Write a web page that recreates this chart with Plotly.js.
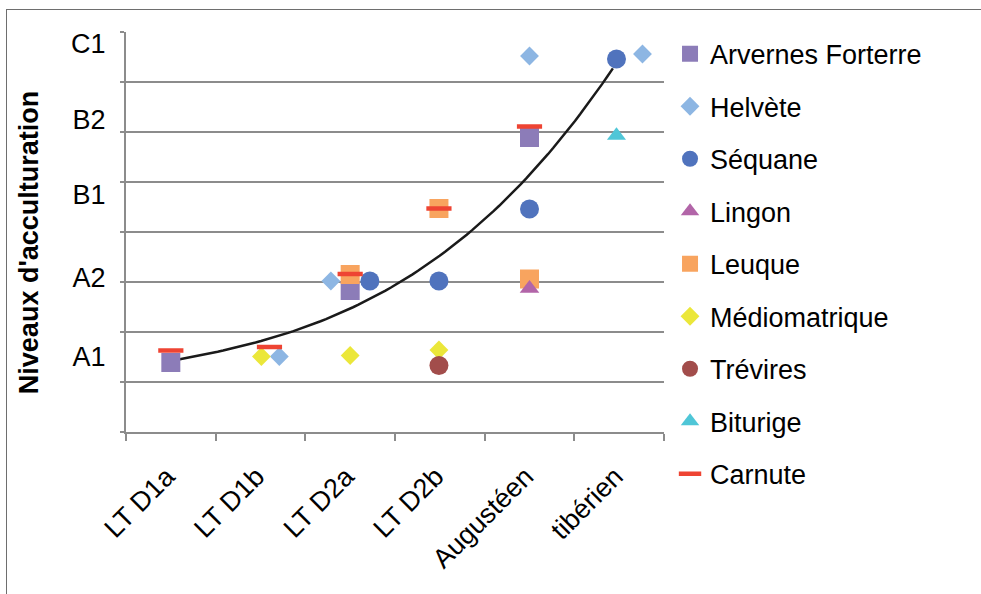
<!DOCTYPE html>
<html>
<head>
<meta charset="utf-8">
<script src="https://cdn.plot.ly/plotly-3.0.1.min.js"></script>
<style>
  html, body { margin: 0; padding: 0; background: #fff; overflow: hidden; }
  #chart { width: 981px; height: 594px; position: absolute; left: 0; top: 0; }
  #frame { position: absolute; left: 6px; top: 9px; width: 2000px; height: 2000px;
           border-left: 1.5px solid #6e6e6e; border-top: 1.5px solid #6e6e6e; pointer-events: none; }
</style>
</head>
<body>
<div id="chart"></div>
<div id="frame"></div>
<script>
// Periods (category axis)
const categories = ['LT D1a', 'LT D1b', 'LT D2a', 'LT D2b', 'Augustéen', 'tibérien'];
const categoryCenters = [0.5, 1.5, 2.5, 3.5, 4.5, 5.5];

// Acculturation levels (y tick labels) and where they sit on the 0-8 scale
const levelLabels = ['A1', 'A2', 'B1', 'B2', 'C1'];
const levelPos = [1.5, 3.08, 4.74, 6.24, 7.77];

// Series (x = period position, y = level)
const arvernesX = [0.5, 2.5, 4.5];
const arvernesY = [1.39, 2.83, 5.89];
const helveteX = [1.71, 2.285, 4.5, 5.76];
const helveteY = [1.51, 3.02, 7.52, 7.56];
const sequaneX = [2.72, 3.49, 4.5, 5.47];
const sequaneY = [3.02, 3.02, 4.46, 7.46];
const lingonX = [4.5];
const lingonY = [2.87];
const leuqueX = [2.5, 3.49, 4.5];
const leuqueY = [3.15, 4.47, 3.06];
const mediomatriqueX = [1.51, 2.5, 3.49];
const mediomatriqueY = [1.51, 1.53, 1.64];
const trevirestX = [3.49];
const trevirestY = [1.33];
const biturigeX = [5.47];
const biturigeY = [5.93];
const carnuteX = [0.5, 1.6, 2.5, 3.49, 4.5];
const carnuteY = [1.63, 1.70, 3.16, 4.47, 6.11];

// Trend curve points; a smooth cubic is fitted through them
const trendX = [0.60, 1.23, 1.92, 2.72, 3.07, 3.82, 4.43, 4.93, 5.43];
const trendY = [1.46, 1.70, 2.00, 2.71, 3.00, 4.00, 5.00, 6.00, 7.30];

function polyFit(xs, ys, deg) {
  const n = deg + 1;
  const A = [];
  for (let i = 0; i < n; i++) { A.push(new Array(n + 1).fill(0)); }
  for (let k = 0; k < xs.length; k++) {
    for (let i = 0; i < n; i++) {
      for (let j = 0; j < n; j++) A[i][j] += Math.pow(xs[k], i + j);
      A[i][n] += ys[k] * Math.pow(xs[k], i);
    }
  }
  for (let i = 0; i < n; i++) {
    let p = i;
    for (let r = i + 1; r < n; r++) if (Math.abs(A[r][i]) > Math.abs(A[p][i])) p = r;
    [A[i], A[p]] = [A[p], A[i]];
    for (let r = 0; r < n; r++) {
      if (r === i) continue;
      const f = A[r][i] / A[i][i];
      for (let c = i; c <= n; c++) A[r][c] -= f * A[i][c];
    }
  }
  return A.map((row, i) => row[n] / row[i]);
}
const coef = polyFit(trendX, trendY, 3);
const fitX = [], fitY = [];
const x0 = trendX[0], x1 = trendX[trendX.length - 1];
for (let i = 0; i <= 80; i++) {
  const x = x0 + (x1 - x0) * i / 80;
  fitX.push(x);
  fitY.push(coef.reduce((s, c, p) => s + c * Math.pow(x, p), 0));
}

const font = 'Liberation Sans, Arial, Helvetica, sans-serif';
const grid = '#8c8c8c';

function pts(name, x, y, symbol, color, size, rank, extra) {
  const m = { symbol: symbol, color: color, size: size, line: { width: 0 } };
  if (extra) Object.assign(m, extra);
  return { type: 'scatter', mode: 'markers', name: name, x: x, y: y, marker: m,
           legendrank: rank, legendgroup: name, hoverinfo: 'skip' };
}

const traces = [
  { type: 'scatter', mode: 'lines', x: fitX, y: fitY, showlegend: false,
    line: { color: '#1a1a1a', width: 2.5 }, hoverinfo: 'skip' },
  pts('Arvernes Forterre', arvernesX, arvernesY, 'square', '#8c7cb8', 19, 1),
  pts('Helvète', helveteX, helveteY, 'diamond', '#8db6e3', 14.5, 2),
  pts('Séquane', sequaneX, sequaneY, 'circle', '#5073bd', 19, 3),
  pts('Leuque', leuqueX, leuqueY, 'square', '#f8a45f', 19, 5),
  pts('Lingon', lingonX, lingonY, 'triangle-up', '#b265a8', 17, 4),
  pts('Médiomatrique', mediomatriqueX, mediomatriqueY, 'diamond', '#ebe73a', 14.5, 6),
  pts('Trévires', trevirestX, trevirestY, 'circle', '#a24d4b', 19, 7),
  pts('Biturige', biturigeX, biturigeY, 'triangle-up', '#4fc6d7', 16.5, 8),
  pts('Carnute', carnuteX, carnuteY, 'line-ew', '#ee4433', 18, 9,
      { line: { color: '#ee4433', width: 4.5 } })
];

const layout = {
  width: 981, height: 594,
  margin: { l: 126, r: 317, t: 32, b: 162 },
  paper_bgcolor: '#ffffff', plot_bgcolor: '#ffffff',
  font: { family: font, size: 27, color: '#000' },
  showlegend: true,
  legend: {
    xref: 'container', yref: 'container', x: 0.683, y: 0.95, xanchor: 'left', yanchor: 'top',
    font: { family: font, size: 27, color: '#000' }, tracegroupgap: 14.4, itemwidth: 30,
    bgcolor: 'rgba(0,0,0,0)', maxheight: 580
  },
  xaxis: {
    range: [0, 6], fixedrange: true, zeroline: false, showgrid: false,
    showline: true, linecolor: grid, linewidth: 2,
    tickmode: 'array', tickvals: categoryCenters, ticktext: categories,
    ticks: '', tickangle: -45, ticklabelstandoff: 16, ticklabelshift: -4,
    tickfont: { family: font, size: 27, color: '#000' },
    minor: { tickmode: 'array', tickvals: [0, 1, 2, 3, 4, 5, 6], ticks: 'outside', ticklen: 7,
             tickwidth: 2, tickcolor: grid, showgrid: false }
  },
  yaxis: {
    range: [0, 8], fixedrange: true, zeroline: false, showgrid: false,
    showline: true, linecolor: grid, linewidth: 2,
    tickmode: 'array', tickvals: levelPos, ticktext: levelLabels, ticks: '',
    ticklabelstandoff: 13, tickfont: { family: font, size: 27, color: '#000' },
    minor: { tickmode: 'array', tickvals: [0, 1, 2, 3, 4, 5, 6, 7, 8], ticks: 'outside', ticklen: 4,
             tickwidth: 2, tickcolor: grid, showgrid: true, gridcolor: grid, gridwidth: 2 }
  },
  annotations: [{
    text: "<b>Niveaux d'acculturation</b>", textangle: -90, showarrow: false,
    xref: 'paper', yref: 'paper', x: -0.18, y: 0.475, xanchor: 'center', yanchor: 'middle',
    font: { family: font, size: 27, color: '#000' }
  }]
};

Plotly.newPlot('chart', traces, layout, { staticPlot: true, displayModeBar: false });
</script>
</body>
</html>
